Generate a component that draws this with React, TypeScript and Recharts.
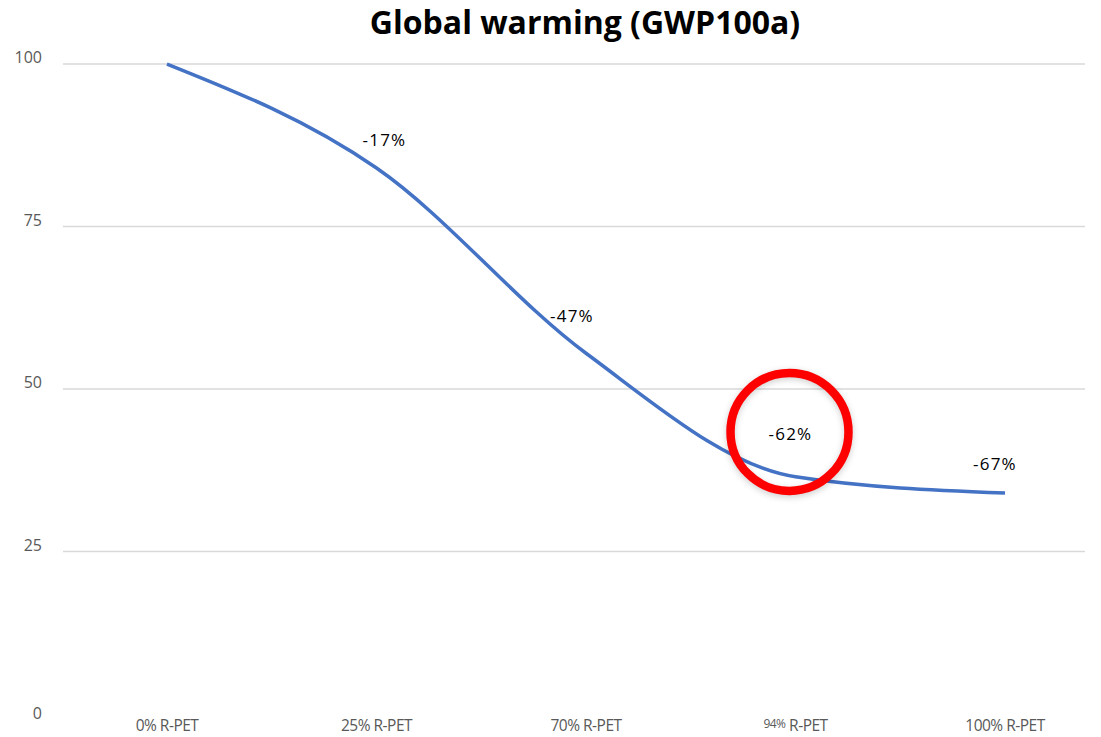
import { LineChart, Line, XAxis, YAxis, CartesianGrid, LabelList, ReferenceDot } from 'recharts';

const categories = ['0% R-PET', '25% R-PET', '70% R-PET', '94% R-PET', '100% R-PET'];
const gwp = [100, 84, 55.5, 36.5, 34];
const changeLabels = ['', '-17%', '-47%', '-62%', '-67%'];
const yTicks = [0, 25, 50, 75, 100];

const data = categories.map((name, i) => ({ name, gwp: gwp[i], change: changeLabels[i] }));

// label nudges relative to the point (dx, dy)
const labelShift: [number, number][] = [[0, 0], [8, -28], [-14, -37], [-5, -43], [-10, -29]];

const tickFont = 'Open Sans, sans-serif';

function XTick({ x, payload }: any) {
  const v: string = payload.value;
  const small = v.startsWith('94%');
  const pct = v.split(' ')[0];
  const rest = v.slice(v.indexOf(' '));
  return (
    <text x={x} y={731} textAnchor="middle" fill="#595959" fontSize={15.5} fontFamily={tickFont} letterSpacing={-0.5}>
      <tspan fontSize={small ? 12 : 15.5} dy={small ? -3 : 0}>{pct}</tspan>
      <tspan dy={small ? 3 : 0}>{rest}</tspan>
    </text>
  );
}

function YTick({ y, payload }: any) {
  const dy = payload.value === 0 ? 5 : -1;
  return (
    <text x={42} y={y + dy} textAnchor="end" fill="#595959" fontSize={16} fontFamily={tickFont}>
      {payload.value}
    </text>
  );
}

function ChangeLabel({ x, y, value, index }: any) {
  if (!value) return null;
  const [dx, dy] = labelShift[index];
  return (
    <text x={x + dx} y={y + dy + 6} textAnchor="middle" fill="#000" fontSize={17} fontFamily={tickFont} letterSpacing={1.2}>
      {value}
    </text>
  );
}

function RedRing({ cx, cy }: any) {
  return (
    <g>
      <circle cx={cx - 6} cy={cy + 2} r={59} fill="none" stroke="rgba(0,0,0,0.18)" strokeWidth={9} filter="url(#ringBlur)" />
      <circle cx={cx - 6} cy={cy} r={59} fill="none" stroke="#ff0000" strokeWidth={8.5} />
    </g>
  );
}

export default function App() {
  return (
    <div style={{ position: 'absolute', left: 0, top: 0, width: 1101, height: 737, background: '#fff' }}>
      <div
        style={{
          position: 'absolute',
          left: 0,
          width: 1170,
          top: 0,
          textAlign: 'center',
          fontFamily: tickFont,
          fontWeight: 700,
          fontSize: 32,
          color: '#000',
        }}
      >
        Global warming (GWP100a)
      </div>
      <LineChart width={1101} height={737} data={data} margin={{ top: 64, right: 16, bottom: 0, left: 0 }}>
        <defs>
          <filter id="ringBlur" x="-20%" y="-20%" width="140%" height="140%">
            <feGaussianBlur stdDeviation="3" />
          </filter>
        </defs>
        <CartesianGrid vertical={false} stroke="#d9d9d9" strokeWidth={1.5} horizontalValues={[25, 50, 75, 100]} />
        <XAxis
          dataKey="name"
          type="category"
          scale="point"
          padding={{ left: 104, right: 80 }}
          axisLine={false}
          tickLine={false}
          height={23}
          tick={<XTick />}
          interval={0}
        />
        <YAxis
          domain={[0, 100]}
          ticks={yTicks}
          width={63}
          axisLine={false}
          tickLine={false}
          tick={<YTick />}
        />
        <Line
          type="monotone"
          dataKey="gwp"
          stroke="#4472C4"
          strokeWidth={3.5}
          dot={false}
          isAnimationActive={false}
        >
          <LabelList dataKey="change" content={<ChangeLabel />} />
        </Line>
        <ReferenceDot x="94% R-PET" y={43.4} r={59} shape={<RedRing />} />
      </LineChart>
    </div>
  );
}
